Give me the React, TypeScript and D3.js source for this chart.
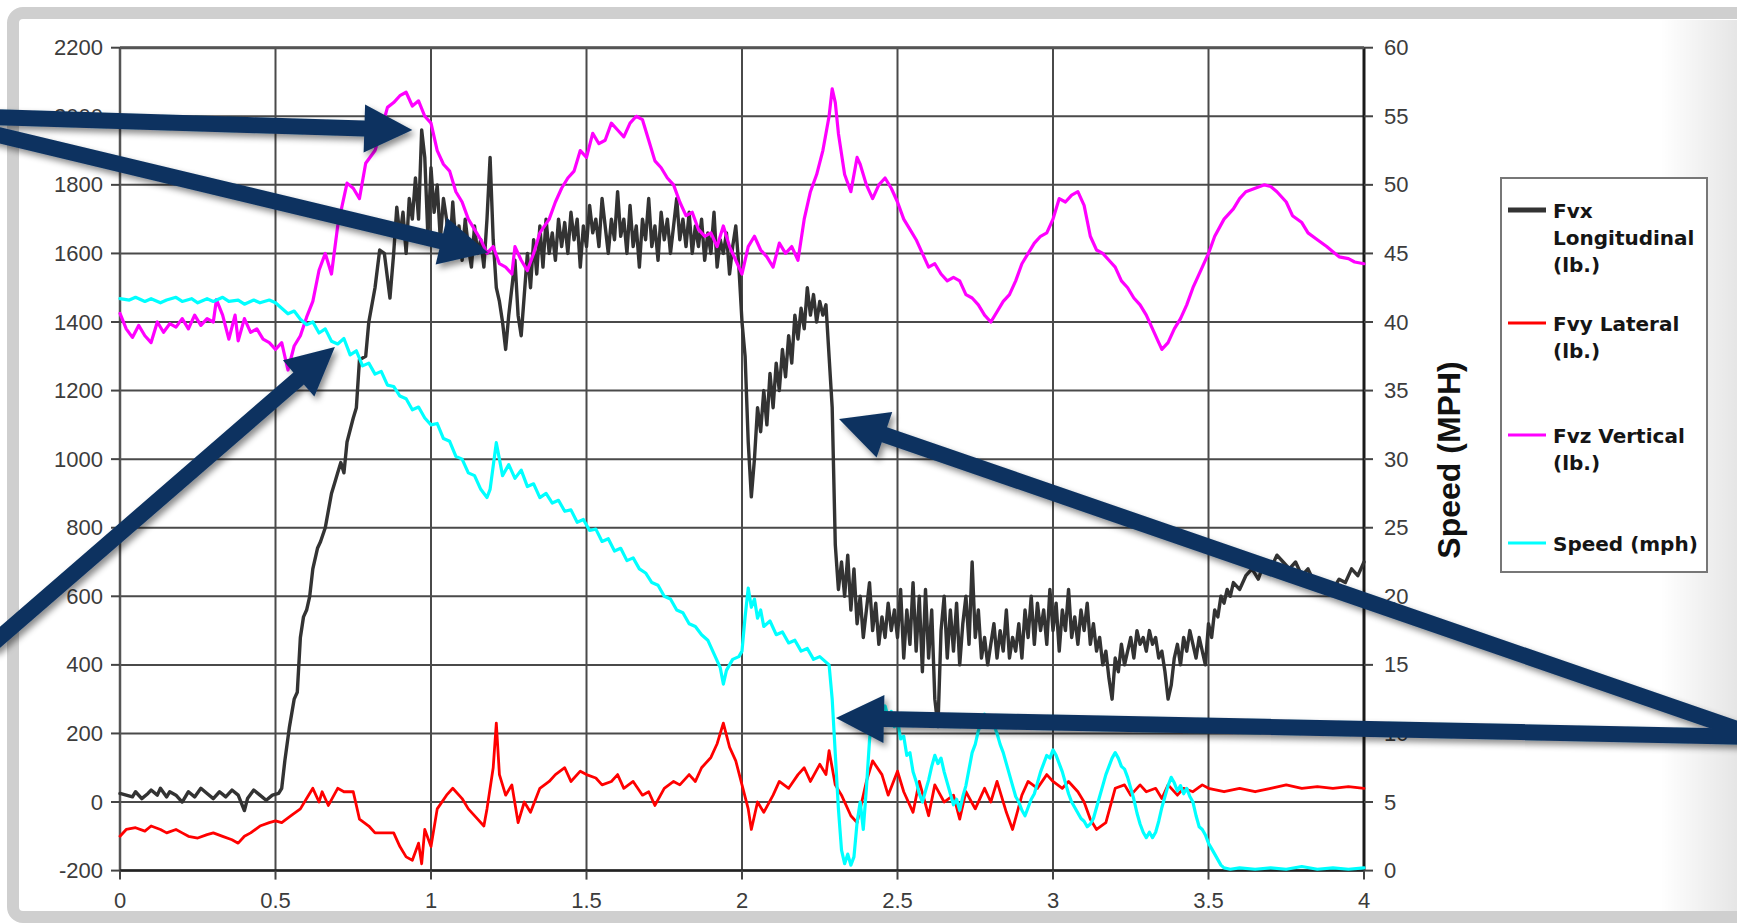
import React from "react";
import * as d3 from "d3";

// ---------- data (time s, value) ----------
const xTickValues = [0, 0.5, 1, 1.5, 2, 2.5, 3, 3.5, 4];
const leftTickValues = [-200, 0, 200, 400, 600, 800, 1000, 1200, 1400, 1600, 1800, 2000, 2200];
const rightTickValues = [0, 5, 10, 15, 20, 25, 30, 35, 40, 45, 50, 55, 60];

const fvx: [number, number][] = [
  [0, 25], [0.02, 20], [0.04, 15], [0.05, 30], [0.07, 10], [0.09, 25], [0.1, 35], [0.12, 20], [0.13, 40], [0.15, 15],
  [0.16, 30], [0.18, 20], [0.2, 0], [0.22, 30], [0.24, 15], [0.26, 40], [0.28, 25], [0.3, 10], [0.32, 30], [0.34, 15],
  [0.36, 35], [0.38, 20], [0.4, -25], [0.41, 10], [0.43, 35], [0.45, 20], [0.47, 5], [0.49, 20], [0.51, 25], [0.52, 40],
  [0.53, 120], [0.545, 220], [0.56, 300], [0.57, 320], [0.58, 480], [0.59, 540], [0.6, 560], [0.61, 600], [0.62, 680],
  [0.635, 740], [0.645, 760], [0.66, 800], [0.68, 900], [0.69, 930], [0.7, 960], [0.71, 990], [0.72, 960], [0.73, 1050],
  [0.75, 1120], [0.76, 1150], [0.77, 1290], [0.79, 1300], [0.8, 1400], [0.82, 1500], [0.835, 1610], [0.85, 1600],
  [0.868, 1470], [0.88, 1600], [0.89, 1735], [0.9, 1650], [0.91, 1720], [0.92, 1600], [0.93, 1760], [0.94, 1700],
  [0.95, 1820], [0.96, 1700], [0.97, 1960], [0.98, 1880], [0.99, 1650], [1.0, 1850], [1.01, 1720], [1.02, 1800],
  [1.03, 1640], [1.04, 1760], [1.05, 1700], [1.06, 1600], [1.07, 1750], [1.08, 1620], [1.09, 1680], [1.1, 1580],
  [1.11, 1700], [1.12, 1620], [1.13, 1560], [1.14, 1680], [1.15, 1600], [1.16, 1640], [1.17, 1560], [1.18, 1700],
  [1.19, 1880], [1.2, 1640], [1.21, 1500], [1.22, 1460], [1.23, 1400], [1.24, 1320], [1.25, 1420], [1.26, 1500],
  [1.27, 1580], [1.28, 1420], [1.29, 1360], [1.3, 1480], [1.31, 1600], [1.32, 1500], [1.33, 1640], [1.34, 1540],
  [1.35, 1680], [1.36, 1560], [1.37, 1700], [1.38, 1600], [1.39, 1660], [1.4, 1580], [1.41, 1700], [1.42, 1620],
  [1.43, 1690], [1.44, 1600], [1.45, 1720], [1.46, 1640], [1.47, 1700], [1.48, 1560], [1.49, 1680], [1.5, 1620],
  [1.51, 1740], [1.52, 1660], [1.53, 1700], [1.54, 1620], [1.55, 1760], [1.56, 1680], [1.57, 1600], [1.58, 1700],
  [1.59, 1640], [1.6, 1780], [1.61, 1650], [1.62, 1700], [1.63, 1600], [1.64, 1740], [1.65, 1620], [1.66, 1680],
  [1.67, 1560], [1.68, 1700], [1.69, 1640], [1.7, 1760], [1.71, 1620], [1.72, 1680], [1.73, 1580], [1.74, 1720],
  [1.75, 1640], [1.76, 1700], [1.77, 1600], [1.78, 1680], [1.79, 1760], [1.8, 1640], [1.81, 1700], [1.82, 1620],
  [1.83, 1720], [1.84, 1600], [1.85, 1680], [1.86, 1620], [1.87, 1700], [1.88, 1580], [1.89, 1660], [1.9, 1600],
  [1.91, 1720], [1.92, 1560], [1.93, 1640], [1.94, 1600], [1.95, 1660], [1.96, 1540], [1.97, 1620], [1.98, 1680],
  [1.99, 1560], [2.0, 1400], [2.01, 1300], [2.02, 1050], [2.03, 890], [2.04, 1000], [2.05, 1150], [2.06, 1080],
  [2.07, 1200], [2.08, 1100], [2.09, 1250], [2.1, 1150], [2.11, 1280], [2.12, 1200], [2.13, 1320], [2.14, 1240],
  [2.15, 1360], [2.16, 1280], [2.17, 1420], [2.18, 1350], [2.19, 1440], [2.2, 1380], [2.21, 1500], [2.22, 1420],
  [2.23, 1480], [2.24, 1400], [2.25, 1460], [2.26, 1420], [2.27, 1450], [2.28, 1300], [2.29, 1150], [2.3, 750],
  [2.31, 620], [2.32, 700], [2.33, 600], [2.34, 720], [2.35, 560], [2.36, 680], [2.37, 520], [2.38, 600], [2.39, 480],
  [2.4, 560], [2.41, 640], [2.42, 500], [2.43, 580], [2.44, 460], [2.45, 540], [2.46, 480], [2.47, 580], [2.48, 500],
  [2.49, 560], [2.5, 480], [2.51, 620], [2.52, 420], [2.53, 560], [2.54, 460], [2.55, 640], [2.56, 440], [2.57, 600],
  [2.58, 380], [2.59, 620], [2.6, 420], [2.61, 560], [2.62, 300], [2.63, 220], [2.64, 500], [2.65, 600], [2.66, 420],
  [2.67, 560], [2.68, 440], [2.69, 580], [2.7, 400], [2.71, 520], [2.72, 600], [2.73, 460], [2.74, 700], [2.75, 480],
  [2.76, 560], [2.77, 420], [2.78, 480], [2.79, 400], [2.8, 460], [2.81, 520], [2.82, 420], [2.83, 500], [2.84, 440],
  [2.85, 560], [2.86, 420], [2.87, 480], [2.88, 440], [2.89, 520], [2.9, 420], [2.91, 560], [2.92, 480], [2.93, 600],
  [2.94, 460], [2.95, 580], [2.96, 500], [2.97, 560], [2.98, 460], [2.99, 620], [3.0, 500], [3.01, 580], [3.02, 440],
  [3.03, 560], [3.04, 500], [3.05, 620], [3.06, 480], [3.07, 540], [3.08, 460], [3.09, 560], [3.1, 500], [3.11, 580],
  [3.12, 460], [3.13, 520], [3.14, 440], [3.15, 480], [3.16, 400], [3.17, 440], [3.18, 360], [3.19, 300], [3.2, 420],
  [3.21, 380], [3.22, 460], [3.23, 400], [3.24, 440], [3.25, 480], [3.26, 420], [3.27, 500], [3.28, 460], [3.29, 480],
  [3.3, 440], [3.31, 500], [3.32, 460], [3.33, 480], [3.34, 420], [3.35, 440], [3.36, 380], [3.37, 300], [3.38, 340],
  [3.39, 420], [3.4, 460], [3.41, 400], [3.42, 480], [3.43, 440], [3.44, 500], [3.45, 460], [3.46, 420], [3.47, 480],
  [3.48, 440], [3.49, 400], [3.5, 520], [3.51, 480], [3.52, 560], [3.53, 540], [3.54, 600], [3.55, 580], [3.56, 620],
  [3.57, 600], [3.58, 640], [3.6, 620], [3.62, 660], [3.64, 680], [3.66, 650], [3.68, 700], [3.7, 680], [3.72, 720],
  [3.74, 700], [3.76, 680], [3.78, 700], [3.8, 660], [3.82, 680], [3.84, 640], [3.86, 620], [3.88, 640], [3.9, 620],
  [3.92, 650], [3.94, 640], [3.96, 680], [3.98, 660], [4.0, 700],
];

const fvy: [number, number][] = [
  [0, -100], [0.02, -80], [0.05, -75], [0.08, -85], [0.1, -70], [0.13, -80], [0.15, -90], [0.18, -80], [0.2, -90],
  [0.22, -100], [0.25, -105], [0.28, -95], [0.3, -90], [0.33, -100], [0.36, -110], [0.38, -120], [0.4, -100],
  [0.42, -90], [0.45, -70], [0.48, -60], [0.5, -55], [0.52, -60], [0.55, -40], [0.58, -20], [0.6, 10], [0.62, 40],
  [0.64, 0], [0.65, 30], [0.67, -10], [0.7, 40], [0.72, 30], [0.75, 30], [0.77, -50], [0.8, -70], [0.82, -90],
  [0.85, -90], [0.88, -90], [0.9, -130], [0.92, -160], [0.94, -170], [0.96, -120], [0.97, -180], [0.98, -80],
  [1.0, -130], [1.02, -20], [1.05, 20], [1.07, 40], [1.1, 10], [1.12, -20], [1.15, -50], [1.17, -70], [1.18, -20],
  [1.2, 100], [1.21, 230], [1.22, 80], [1.24, 20], [1.26, 50], [1.28, -60], [1.3, 0], [1.32, -30], [1.35, 40],
  [1.38, 60], [1.4, 80], [1.43, 100], [1.45, 60], [1.48, 90], [1.5, 80], [1.53, 70], [1.55, 50], [1.58, 60],
  [1.6, 80], [1.62, 40], [1.65, 60], [1.68, 20], [1.7, 30], [1.72, -10], [1.75, 40], [1.78, 60], [1.8, 50],
  [1.83, 80], [1.85, 60], [1.87, 100], [1.9, 130], [1.92, 170], [1.94, 230], [1.96, 160], [1.98, 120], [2.0, 50],
  [2.02, -20], [2.03, -80], [2.05, 0], [2.07, -30], [2.1, 20], [2.12, 60], [2.15, 40], [2.18, 80], [2.2, 100],
  [2.22, 60], [2.25, 110], [2.27, 80], [2.28, 150], [2.3, 50], [2.32, 20], [2.35, -40], [2.37, -60], [2.4, 60],
  [2.42, 120], [2.45, 80], [2.47, 20], [2.5, 90], [2.52, 30], [2.55, -30], [2.57, 60], [2.6, -40], [2.62, 50],
  [2.65, 0], [2.68, 20], [2.7, -50], [2.72, 30], [2.75, -20], [2.78, 40], [2.8, 0], [2.82, 60], [2.85, -30],
  [2.87, -80], [2.9, 20], [2.92, 60], [2.95, 40], [2.98, 80], [3.0, 60], [3.03, 40], [3.05, 60], [3.08, 30],
  [3.1, 0], [3.12, -50], [3.14, -80], [3.17, -60], [3.2, 40], [3.23, 50], [3.25, 20], [3.28, 50], [3.3, 30],
  [3.33, 40], [3.35, 10], [3.37, 50], [3.4, 20], [3.42, 40], [3.45, 30], [3.48, 50], [3.5, 40], [3.55, 30],
  [3.6, 40], [3.65, 30], [3.7, 40], [3.75, 50], [3.8, 40], [3.85, 45], [3.9, 40], [3.95, 45], [4.0, 40],
];

const fvz: [number, number][] = [
  [0, 1425], [0.02, 1380], [0.04, 1355], [0.06, 1390], [0.08, 1360], [0.1, 1340], [0.12, 1400], [0.14, 1370],
  [0.16, 1395], [0.18, 1385], [0.2, 1410], [0.22, 1380], [0.24, 1420], [0.26, 1390], [0.28, 1410], [0.3, 1400],
  [0.31, 1465], [0.33, 1420], [0.35, 1350], [0.37, 1420], [0.38, 1345], [0.4, 1410], [0.42, 1370], [0.44, 1380],
  [0.46, 1350], [0.48, 1340], [0.5, 1320], [0.52, 1340], [0.54, 1260], [0.56, 1330], [0.58, 1360], [0.6, 1414],
  [0.62, 1460], [0.64, 1551], [0.66, 1600], [0.68, 1540], [0.7, 1680], [0.73, 1805], [0.75, 1790], [0.77, 1760],
  [0.79, 1863], [0.82, 1900], [0.84, 1960], [0.86, 2026], [0.88, 2040], [0.9, 2060], [0.92, 2070], [0.94, 2030],
  [0.96, 2045], [0.98, 2000], [1.0, 1980], [1.02, 1900], [1.04, 1860], [1.06, 1840], [1.08, 1780], [1.1, 1750],
  [1.12, 1700], [1.14, 1670], [1.16, 1640], [1.18, 1600], [1.2, 1620], [1.22, 1570], [1.24, 1560], [1.26, 1540],
  [1.27, 1620], [1.29, 1580], [1.31, 1550], [1.33, 1600], [1.35, 1660], [1.38, 1700], [1.4, 1750], [1.42, 1790],
  [1.44, 1820], [1.46, 1840], [1.48, 1900], [1.5, 1880], [1.52, 1950], [1.54, 1920], [1.56, 1930], [1.58, 1980],
  [1.6, 1960], [1.62, 1940], [1.64, 1980], [1.66, 2000], [1.68, 1990], [1.7, 1930], [1.72, 1870], [1.74, 1850],
  [1.76, 1820], [1.78, 1800], [1.8, 1750], [1.82, 1710], [1.84, 1720], [1.86, 1670], [1.88, 1650], [1.9, 1660],
  [1.92, 1620], [1.94, 1680], [1.96, 1620], [1.98, 1580], [2.0, 1540], [2.02, 1620], [2.04, 1650], [2.06, 1610],
  [2.08, 1590], [2.1, 1560], [2.12, 1630], [2.14, 1600], [2.16, 1620], [2.18, 1580], [2.2, 1700], [2.22, 1780],
  [2.24, 1830], [2.26, 1900], [2.28, 2000], [2.29, 2080], [2.3, 2040], [2.31, 1950], [2.33, 1830], [2.35, 1780],
  [2.37, 1880], [2.38, 1860], [2.4, 1800], [2.42, 1760], [2.44, 1800], [2.46, 1820], [2.48, 1790], [2.5, 1750],
  [2.52, 1700], [2.54, 1670], [2.56, 1640], [2.58, 1600], [2.6, 1560], [2.62, 1570], [2.64, 1540], [2.66, 1520],
  [2.68, 1530], [2.7, 1520], [2.72, 1480], [2.74, 1470], [2.76, 1450], [2.78, 1420], [2.8, 1400], [2.82, 1430],
  [2.84, 1460], [2.86, 1480], [2.88, 1520], [2.9, 1570], [2.92, 1600], [2.94, 1630], [2.96, 1650], [2.98, 1660],
  [3.0, 1700], [3.02, 1760], [3.04, 1750], [3.06, 1770], [3.08, 1780], [3.1, 1740], [3.12, 1650], [3.14, 1610],
  [3.16, 1600], [3.18, 1580], [3.2, 1560], [3.22, 1520], [3.24, 1500], [3.26, 1470], [3.28, 1450], [3.3, 1420],
  [3.32, 1380], [3.34, 1340], [3.35, 1320], [3.37, 1340], [3.39, 1380], [3.41, 1410], [3.43, 1450], [3.45, 1500],
  [3.48, 1560], [3.5, 1600], [3.52, 1650], [3.55, 1700], [3.58, 1730], [3.6, 1760], [3.62, 1780], [3.65, 1790],
  [3.68, 1800], [3.7, 1795], [3.72, 1780], [3.75, 1750], [3.77, 1710], [3.8, 1690], [3.82, 1660], [3.85, 1640],
  [3.88, 1620], [3.9, 1605], [3.92, 1590], [3.95, 1585], [3.97, 1575], [4.0, 1570],
];

const speed: [number, number][] = [
  [0, 41.7], [0.03, 41.6], [0.05, 41.8], [0.08, 41.5], [0.1, 41.7], [0.13, 41.4], [0.15, 41.6], [0.18, 41.8],
  [0.2, 41.5], [0.23, 41.7], [0.25, 41.4], [0.28, 41.7], [0.3, 41.5], [0.33, 41.8], [0.35, 41.5], [0.38, 41.6],
  [0.4, 41.3], [0.43, 41.6], [0.45, 41.4], [0.48, 41.6], [0.5, 41.4], [0.52, 41.0], [0.54, 40.6], [0.56, 40.8],
  [0.58, 40.2], [0.6, 39.8], [0.62, 40.0], [0.64, 39.2], [0.66, 39.5], [0.68, 38.6], [0.7, 38.4], [0.72, 38.8],
  [0.74, 37.6], [0.76, 37.9], [0.78, 36.8], [0.8, 37.0], [0.82, 36.2], [0.84, 36.4], [0.86, 35.4], [0.88, 35.3],
  [0.9, 34.6], [0.92, 34.4], [0.94, 33.6], [0.96, 33.8], [0.98, 33.0], [1.0, 32.5], [1.02, 32.6], [1.04, 31.5],
  [1.06, 31.3], [1.08, 30.2], [1.1, 30.0], [1.12, 29.0], [1.14, 28.8], [1.16, 27.8], [1.18, 27.2], [1.19, 27.8],
  [1.2, 29.5], [1.21, 31.2], [1.22, 30.0], [1.23, 28.8], [1.25, 29.6], [1.27, 28.6], [1.29, 29.2], [1.31, 28.0],
  [1.33, 28.2], [1.35, 27.2], [1.37, 27.5], [1.39, 26.8], [1.41, 27.0], [1.43, 26.2], [1.45, 26.3], [1.47, 25.4],
  [1.49, 25.6], [1.51, 24.8], [1.53, 24.9], [1.55, 24.0], [1.57, 24.2], [1.59, 23.3], [1.61, 23.5], [1.63, 22.6],
  [1.65, 22.8], [1.67, 22.0], [1.69, 21.7], [1.71, 21.0], [1.73, 20.8], [1.75, 20.0], [1.77, 19.8], [1.79, 19.0],
  [1.81, 18.8], [1.83, 18.0], [1.85, 17.8], [1.87, 17.2], [1.89, 16.8], [1.91, 15.8], [1.93, 14.8], [1.94, 13.6],
  [1.95, 14.6], [1.97, 15.4], [1.99, 15.6], [2.0, 16.0], [2.01, 18.5], [2.02, 20.6], [2.03, 19.2], [2.04, 19.8],
  [2.05, 18.4], [2.06, 19.0], [2.07, 17.8], [2.09, 18.2], [2.11, 17.2], [2.13, 17.4], [2.15, 16.6], [2.17, 16.8],
  [2.19, 16.0], [2.21, 16.2], [2.23, 15.4], [2.25, 15.6], [2.27, 15.2], [2.28, 15.0], [2.29, 12.5], [2.3, 8.5],
  [2.31, 4.5], [2.32, 1.5], [2.33, 0.5], [2.34, 1.2], [2.35, 0.4], [2.36, 1.0], [2.37, 3.5], [2.38, 5.0],
  [2.39, 3.0], [2.4, 6.0], [2.41, 9.5], [2.42, 11.8], [2.43, 11.0], [2.44, 12.2], [2.45, 11.4], [2.46, 12.0],
  [2.47, 11.2], [2.48, 11.6], [2.49, 10.5], [2.5, 11.0], [2.51, 9.6], [2.52, 9.8], [2.53, 8.4], [2.54, 8.6],
  [2.55, 7.2], [2.56, 6.5], [2.57, 5.6], [2.58, 5.0], [2.59, 5.8], [2.6, 6.6], [2.61, 7.6], [2.62, 8.4],
  [2.63, 7.8], [2.64, 8.2], [2.65, 7.2], [2.66, 6.4], [2.67, 5.6], [2.68, 4.8], [2.69, 5.2], [2.7, 4.4],
  [2.71, 5.4], [2.72, 6.2], [2.73, 7.4], [2.74, 8.6], [2.75, 9.2], [2.76, 10.2], [2.77, 10.8], [2.78, 11.4],
  [2.79, 11.0], [2.8, 11.3], [2.81, 10.6], [2.82, 10.0], [2.83, 9.2], [2.84, 8.6], [2.85, 7.8], [2.86, 7.0],
  [2.87, 6.2], [2.88, 5.4], [2.89, 5.0], [2.9, 4.4], [2.91, 4.0], [2.92, 4.6], [2.93, 5.2], [2.94, 5.6],
  [2.95, 6.4], [2.96, 7.2], [2.97, 7.8], [2.98, 8.4], [2.99, 8.2], [3.0, 8.8], [3.01, 8.4], [3.02, 7.8],
  [3.03, 7.2], [3.04, 6.4], [3.05, 5.6], [3.06, 5.0], [3.07, 4.6], [3.08, 4.2], [3.09, 3.8], [3.1, 3.6],
  [3.11, 3.2], [3.12, 3.4], [3.13, 3.8], [3.14, 4.6], [3.15, 5.4], [3.16, 6.2], [3.17, 7.0], [3.18, 7.6],
  [3.19, 8.2], [3.2, 8.6], [3.21, 8.2], [3.22, 7.6], [3.23, 7.4], [3.24, 6.8], [3.25, 6.0], [3.26, 5.2],
  [3.27, 4.2], [3.28, 3.4], [3.29, 2.8], [3.3, 2.4], [3.31, 2.8], [3.32, 2.4], [3.33, 2.8], [3.34, 3.6],
  [3.35, 4.6], [3.36, 5.4], [3.37, 6.2], [3.38, 6.8], [3.39, 6.4], [3.4, 5.8], [3.41, 6.2], [3.42, 5.6],
  [3.43, 6.0], [3.44, 5.4], [3.45, 5.0], [3.46, 4.0], [3.47, 3.2], [3.48, 3.0], [3.49, 2.6], [3.5, 2.0],
  [3.51, 1.6], [3.52, 1.2], [3.53, 0.8], [3.54, 0.4], [3.55, 0.2], [3.57, 0.1], [3.6, 0.2], [3.65, 0.1],
  [3.7, 0.2], [3.75, 0.1], [3.8, 0.3], [3.85, 0.1], [3.9, 0.2], [3.95, 0.1], [4.0, 0.2],
];

const legendItems = [
  { lines: ["Fvx", "Longitudinal", "(lb.)"], color: "#333333", width: 5 },
  { lines: ["Fvy Lateral", "(lb.)"], color: "#ff0000", width: 3 },
  { lines: ["Fvz Vertical", "(lb.)"], color: "#ff00ff", width: 3 },
  { lines: ["Speed (mph)"], color: "#00ffff", width: 3 },
];

// arrow annotations: tail in page pixels, tip in data units (time, lb)
const arrows: { tail: [number, number]; tip: [number, number] }[] = [
  { tail: [-10, 117], tip: [0.94, 1960] },
  { tail: [-10, 133], tip: [1.183, 1603] },
  { tail: [-10, 646], tip: [0.691, 1327] },
  { tail: [1760, 737], tip: [2.302, 245] },
  { tail: [1760, 737], tip: [2.312, 1117] },
];

const W = 1737;
const H = 923;
const PL = 120, PR = 1364, PT = 47.7, PB = 870.6;

export default function App() {
  const x = d3.scaleLinear().domain([0, 4]).range([PL, PR]);
  const yL = d3.scaleLinear().domain([-200, 2200]).range([PB, PT]);
  const yR = d3.scaleLinear().domain([0, 60]).range([PB, PT]);

  const lineL = d3.line<[number, number]>().x((d) => x(d[0])).y((d) => yL(d[1]));
  const lineR = d3.line<[number, number]>().x((d) => x(d[0])).y((d) => yR(d[1]));

  const tickFont = "'Liberation Sans', Arial, sans-serif";
  const tickColor = "#3c3c3c";

  const arrowPoly = (tail: [number, number], tipD: [number, number]) => {
    const tip: [number, number] = [x(tipD[0]), yL(tipD[1])];
    const dx = tip[0] - tail[0];
    const dy = tip[1] - tail[1];
    const len = Math.hypot(dx, dy);
    const ux = dx / len, uy = dy / len;
    const nx = -uy, ny = ux;
    const headLen = 48, headW = 24, shaftW = 8;
    const bx = tip[0] - ux * headLen, by = tip[1] - uy * headLen;
    const pts = [
      [tail[0] + nx * shaftW, tail[1] + ny * shaftW],
      [bx + nx * shaftW, by + ny * shaftW],
      [bx + nx * headW, by + ny * headW],
      tip,
      [bx - nx * headW, by - ny * headW],
      [bx - nx * shaftW, by - ny * shaftW],
      [tail[0] - nx * shaftW, tail[1] - ny * shaftW],
    ];
    return pts.map((p) => p.join(",")).join(" ");
  };

  const entryY = [210, 323, 435, 543];

  return (
    <svg
      width={W}
      height={H}
      style={{ position: "absolute", left: 0, top: 0, background: "#ffffff" }}
      xmlns="http://www.w3.org/2000/svg"
    >
      <defs>
        <linearGradient id="rightShade" x1="0" x2="1" y1="0" y2="0">
          <stop offset="0" stopColor="#000" stopOpacity="0" />
          <stop offset="1" stopColor="#000" stopOpacity="0.1" />
        </linearGradient>
        <filter id="shadow" x="-20%" y="-20%" width="140%" height="140%">
          <feDropShadow dx="3" dy="4" stdDeviation="3" floodColor="#000" floodOpacity="0.45" />
        </filter>
        <clipPath id="plotClip">
          <rect x={PL - 2} y={PT - 30} width={PR - PL + 4} height={PB - PT + 40} />
        </clipPath>
      </defs>

      <rect x={0} y={0} width={W} height={H} fill="#ffffff" />
      <rect x={1660} y={20} width={77} height={892} fill="url(#rightShade)" />

      {/* grid */}
      {leftTickValues.map((v) => (
        <line key={"h" + v} x1={PL} x2={PR} y1={yL(v)} y2={yL(v)} stroke="#4a4a4a" strokeWidth={2} />
      ))}
      {xTickValues.map((v) => (
        <line key={"v" + v} x1={x(v)} x2={x(v)} y1={PT} y2={PB} stroke="#4a4a4a" strokeWidth={2} />
      ))}
      {/* axes */}
      <line x1={PL} x2={PL} y1={PT} y2={PB} stroke="#555" strokeWidth={2.5} />
      <line x1={PR} x2={PR} y1={PT} y2={PB} stroke="#1a1a1a" strokeWidth={3} />
      <line x1={PL} x2={PR} y1={PB} y2={PB} stroke="#222" strokeWidth={2.5} />
      <line x1={PL} x2={PR} y1={PT} y2={PT} stroke="#555" strokeWidth={3} />

      {/* left ticks */}
      {leftTickValues.map((v) => (
        <g key={"lt" + v}>
          <line x1={PL - 9} x2={PL} y1={yL(v)} y2={yL(v)} stroke="#444" strokeWidth={2} />
          <text x={103} y={yL(v) + 7.5} textAnchor="end" fontFamily={tickFont} fontSize={22} fill={tickColor}>
            {v}
          </text>
        </g>
      ))}
      {/* right ticks */}
      {rightTickValues.map((v) => (
        <g key={"rt" + v}>
          <line x1={PR} x2={PR + 9} y1={yR(v)} y2={yR(v)} stroke="#444" strokeWidth={2} />
          <text x={PR + 20} y={yR(v) + 7.5} textAnchor="start" fontFamily={tickFont} fontSize={22} fill={tickColor}>
            {v}
          </text>
        </g>
      ))}
      {/* bottom ticks */}
      {xTickValues.map((v) => (
        <g key={"bt" + v}>
          <line x1={x(v)} x2={x(v)} y1={PB} y2={PB + 9} stroke="#444" strokeWidth={2} />
          <text x={x(v)} y={908} textAnchor="middle" fontFamily={tickFont} fontSize={22} fill={tickColor}>
            {v}
          </text>
        </g>
      ))}

      {/* right axis title */}
      <text
        transform="translate(1460,460) rotate(-90)"
        textAnchor="middle"
        fontFamily={tickFont}
        fontWeight="bold"
        fontSize={32}
        fill="#111"
      >
        Speed (MPH)
      </text>

      {/* series */}
      <g clipPath="url(#plotClip)" fill="none" strokeLinejoin="round" strokeLinecap="round">
        <path d={lineL(fvx) || ""} stroke="#333333" strokeWidth={3.4} />
        <path d={lineL(fvy) || ""} stroke="#ff0000" strokeWidth={2.8} />
        <path d={lineL(fvz) || ""} stroke="#ff00ff" strokeWidth={3.2} />
        <path d={lineR(speed) || ""} stroke="#00ffff" strokeWidth={3.2} />
      </g>

      {/* legend */}
      <rect x={1501} y={178} width={206} height={394} fill="#fff" stroke="#777" strokeWidth={2} />
      {legendItems.map((it, i) => {
        const ly = entryY[i];
        return (
          <g key={"lg" + i}>
            <line x1={1508} x2={1546} y1={ly} y2={ly} stroke={it.color} strokeWidth={it.width} />
            {it.lines.map((ln, j) => (
              <text
                key={j}
                x={1553}
                y={ly + 8 + j * 27}
                fontFamily="'DejaVu Sans', Verdana, sans-serif"
                fontWeight="bold"
                fontSize={20}
                fill="#151515"
              >
                {ln}
              </text>
            ))}
          </g>
        );
      })}

      {/* frame */}
      <rect x={13} y={13} width={1800} height={904} rx={10} fill="none" stroke="#cfcfcf" strokeWidth={12} />

      {/* arrows */}
      <g filter="url(#shadow)">
        {arrows.map((a, i) => (
          <polygon key={"ar" + i} points={arrowPoly(a.tail, a.tip)} fill="#0b3361" />
        ))}
      </g>
    </svg>
  );
}
